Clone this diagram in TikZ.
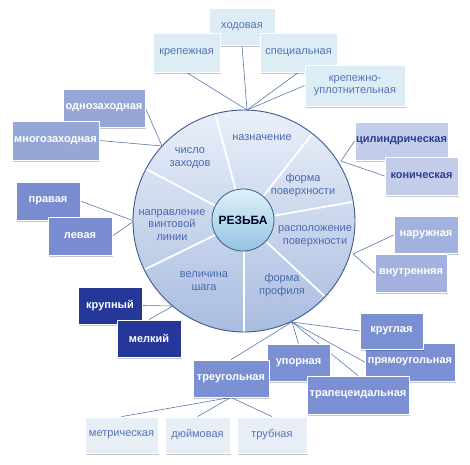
\documentclass[tikz,border=0pt]{standalone}
\usepackage{fontspec}
\setmainfont{Liberation Sans}
\usetikzlibrary{shadows,backgrounds}
\definecolor{linec}{HTML}{5A78AE}
\definecolor{lightfill}{HTML}{DCEDF6}
\definecolor{lightfillb}{HTML}{E7EEF6}
\definecolor{lighttext}{HTML}{5874B6}
\definecolor{cone}{HTML}{95A7D6}
\definecolor{ctwo}{HTML}{C3CDE9}
\definecolor{ctwotext}{HTML}{2C3E92}
\definecolor{cthree}{HTML}{7A8CD0}
\definecolor{cfour}{HTML}{A3B1DE}
\definecolor{cfive}{HTML}{25389A}
\definecolor{csix}{HTML}{7B8FD3}
\definecolor{segtext}{HTML}{4A69AF}
\definecolor{rim}{HTML}{3C5A8E}
\definecolor{disctop}{HTML}{EAF0F9}
\definecolor{discbot}{HTML}{A9BCE0}
\definecolor{coretop}{HTML}{E0F2FA}
\definecolor{corebot}{HTML}{92C4E2}
\begin{document}
\begin{tikzpicture}[x=1pt,y=-1pt,
  conn/.style={draw=linec, line width=0.6pt},
  box/.style={rectangle, draw=white, line width=0.8pt, inner sep=0pt, align=center,
    font=\fontsize{11}{12.5}\selectfont,
    drop shadow={shadow xshift=1.3pt, shadow yshift=-1.6pt, fill=black, opacity=0.22}},
  lightbox/.style={box, fill=lightfill, text=lighttext},
  lightboxb/.style={box, fill=lightfillb, text=lighttext},
  colbox/.style={box, fill=#1, text=white, font=\fontsize{11}{12.5}\selectfont\bfseries},
  seglabel/.style={align=center, text=segtext, inner sep=0pt, font=\fontsize{11}{12.5}\selectfont}
]
\useasboundingbox (0,0) rectangle (470,464);

% disc
\coordinate (c) at (244,221);
\shade[top color=disctop, bottom color=discbot] (c) circle (111);
\foreach \a in {-105,-52,-10,43,90,154,208}
  \draw[white, line width=1.8pt, shift={(c)}] (\a:31) -- (\a:110.5);
\draw[rim, line width=0.9pt] (c) circle (111);
\node[circle, minimum size=62, inner sep=0pt, draw=rim, line width=0.8pt,
  top color=coretop, bottom color=corebot, text=black!85!blue,
  font=\fontsize{12}{14}\selectfont\bfseries] (core) at (243,220) {РЕЗЬБА};

% segment labels
\node[seglabel] (s1) at (262,138) {назначение};
\node[seglabel] (s2) at (190,158) {число\\заходов};
\node[seglabel] (s3) at (303,185) {форма\\поверхности};
\node[seglabel] (s4) at (315,236) {расположение\\поверхности};
\node[seglabel] (s5) at (282,285) {форма\\профиля};
\node[seglabel] (s6) at (204,281) {величина\\шага};
\node[seglabel] (s7) at (172,225) {направление\\винтовой\\линии};

% points on the rim
\coordinate (ptop) at (247,110);
\coordinate (pnw) at (162,146);
\coordinate (pne) at (341,161);
\coordinate (pw) at (134,221);
\coordinate (pe) at (353,254);
\coordinate (psw) at (173,306);
\coordinate (pse) at (292,322);

% top cluster
\node[lightbox, minimum width=66, minimum height=37] (hod) at (242,26.5) {ходовая};
\node[lightbox, minimum width=67, minimum height=39] (krep) at (186.5,52.5) {крепежная};
\node[lightbox, minimum width=77, minimum height=39] (spec) at (298.5,52.5) {специальная};
\node[lightbox, minimum width=100, minimum height=41] (kru) at (355,85.5) {крепежно-\\уплотнительная};

% upper left
\node[colbox=cone, minimum width=82, minimum height=38] (odno) at (104,108) {однозаходная};
\node[colbox=cone, minimum width=87, minimum height=39] (mnogo) at (55.5,140.5) {многозаходная};

% upper right
\node[box, fill=ctwo, text=ctwotext, font=\fontsize{11}{12.5}\selectfont\bfseries, minimum width=93, minimum height=38] (cyl) at (401.5,141) {цилиндрическая};
\node[box, fill=ctwo, text=ctwotext, font=\fontsize{11}{12.5}\selectfont\bfseries, minimum width=73, minimum height=38] (con) at (421.5,176) {коническая};

% left
\node[colbox=cthree, minimum width=64, minimum height=38] (prav) at (48,201) {правая};
\node[colbox=cthree, minimum width=64, minimum height=38] (lev) at (80,236) {левая};

% right
\node[colbox=cfour, minimum width=64, minimum height=37] (nar) at (426,235) {наружная};
\node[colbox=cfour, minimum width=72, minimum height=38] (vnut) at (411,273) {внутренняя};

% lower left
\node[colbox=cfive, minimum width=64, minimum height=37] (krup) at (110,305.5) {крупный};
\node[colbox=cfive, minimum width=64, minimum height=37] (melk) at (149,338.5) {мелкий};

% lower right
\node[colbox=csix, minimum width=90, minimum height=38] (pryam) at (410,362) {прямоугольная};
\node[colbox=csix, minimum width=63, minimum height=36] (krug) at (391.5,331) {круглая};
\node[colbox=csix, minimum width=63, minimum height=37] (upor) at (298.5,362.5) {упорная};
\node[colbox=csix, minimum width=102, minimum height=38] (trap) at (358,395) {трапецеидальная};
\node[colbox=csix, minimum width=76, minimum height=37] (treug) at (231,378.5) {треугольная};

% bottom row
\node[lightboxb, minimum width=73, minimum height=36] (metr) at (121.5,435) {метрическая};
\node[lightboxb, minimum width=65, minimum height=36] (duim) at (197.5,435) {дюймовая};
\node[lightboxb, minimum width=70, minimum height=36] (trub) at (272,435) {трубная};

% connectors
\begin{pgfonlayer}{background}
\draw[conn] (krep.south) -- (ptop);
\draw[conn] (hod.south) -- (ptop);
\draw[conn] (spec.south) -- (ptop);
\draw[conn] (kru.west) -- (ptop);
\draw[conn] (odno.east) -- (pnw);
\draw[conn] (mnogo.east) -- (pnw);
\draw[conn] (cyl.west) -- (pne);
\draw[conn] (con.west) -- (pne);
\draw[conn] (prav.east) -- (pw);
\draw[conn] (lev.east) -- (pw);
\draw[conn] (nar.west) -- (pe);
\draw[conn] (vnut.west) -- (pe);
\draw[conn] (krup.east) -- (psw);
\draw[conn] (melk.north) -- (psw);
\draw[conn] (treug.north) -- (pse);
\draw[conn] (upor.north) -- (pse);
\draw[conn] (trap.north) -- (pse);
\draw[conn] (pryam.west) -- (pse);
\draw[conn] (krug.west) -- (pse);
\draw[conn] (treug.south) -- (metr.north);
\draw[conn] (treug.south) -- (duim.north);
\draw[conn] (treug.south) -- (trub.north);
\end{pgfonlayer}
\end{tikzpicture}
\end{document}
